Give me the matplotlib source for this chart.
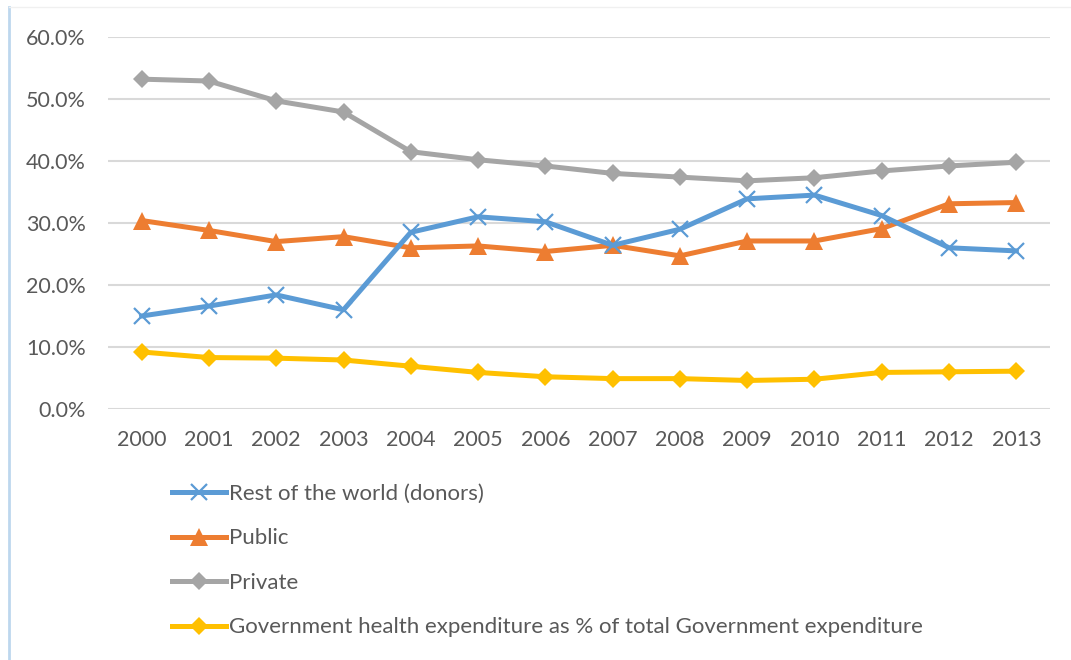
import matplotlib
matplotlib.use("Agg")
import matplotlib.pyplot as plt
from matplotlib.lines import Line2D
from matplotlib.ticker import FuncFormatter, MultipleLocator

years = ["2000", "2001", "2002", "2003", "2004", "2005", "2006",
         "2007", "2008", "2009", "2010", "2011", "2012", "2013"]

rest_of_world = [15.0, 16.6, 18.4, 16.0, 28.5, 31.0, 30.2,
                 26.4, 29.0, 33.9, 34.5, 31.2, 26.0, 25.5]
public = [30.4, 28.8, 27.0, 27.8, 26.0, 26.3, 25.4,
          26.4, 24.7, 27.1, 27.1, 29.1, 33.1, 33.3]
private = [53.2, 52.9, 49.7, 47.9, 41.5, 40.2, 39.2,
           38.0, 37.4, 36.8, 37.3, 38.4, 39.2, 39.8]
gov_health_share = [9.2, 8.3, 8.2, 7.9, 6.9, 5.9, 5.2,
                    4.9, 4.9, 4.6, 4.8, 5.9, 6.0, 6.1]

series_labels = ["Rest of the world (donors)", "Public", "Private",
                 "Government health expenditure as % of total Government expenditure"]

plt.rcParams["font.family"] = ["Lato", "DejaVu Sans"]
TEXT = "#595959"
GRID = "#d9d9d9"
FS = 15.5
LEG_FS = 16

fig = plt.figure(figsize=(10.71, 6.60), dpi=100)
ax = fig.add_axes([108 / 1071, 1 - 409 / 660, (1050 - 108) / 1071, (409 - 37) / 660])

x = list(range(len(years)))
lw = 3.6
ax.plot(x, rest_of_world, color="#5b9bd5", lw=lw, marker="x", ms=12, mew=1.6,
        label=series_labels[0], zorder=4)
ax.plot(x, public, color="#ed7d31", lw=lw, marker="^", ms=13, mew=0,
        label=series_labels[1], zorder=3)
ax.plot(x, private, color="#a5a5a5", lw=lw, marker="D", ms=9.5, mew=0,
        label=series_labels[2], zorder=3)
ax.plot(x, gov_health_share, color="#ffc000", lw=lw, marker="D", ms=9.5, mew=0,
        label=series_labels[3], zorder=3)

ax.set_xlim(-0.5, len(years) - 0.5)
ax.set_ylim(0, 60)
ax.yaxis.set_major_locator(MultipleLocator(10))
ax.yaxis.set_major_formatter(FuncFormatter(lambda v, _: f"{v:.1f}%"))
ax.set_xticks(x)
ax.set_xticklabels(years)
ax.grid(axis="y", color=GRID, lw=1.5)
ax.set_axisbelow(True)
for s in ax.spines.values():
    s.set_visible(False)
ax.tick_params(length=0, labelsize=FS, colors=TEXT)
ax.tick_params(axis="x", pad=15)
ax.tick_params(axis="y", pad=16)

leg = fig.legend(loc="upper left", bbox_to_anchor=(172 / 1071, 1 - 484 / 660),
                 frameon=False, fontsize=LEG_FS, handlelength=2.45, handletextpad=0.12,
                 labelspacing=1.1, borderpad=0, borderaxespad=0)
for t in leg.get_texts():
    t.set_color(TEXT)

# chart-area border: light left edge and faint top edge
fig.add_artist(Line2D([9 / 1071, 9 / 1071], [0, 1 - 7 / 660], color="#bdd7ee", lw=2))
fig.add_artist(Line2D([9 / 1071, 1], [1 - 7 / 660, 1 - 7 / 660], color="#f0f0f0", lw=1))

fig.savefig("out.png", dpi=100)
